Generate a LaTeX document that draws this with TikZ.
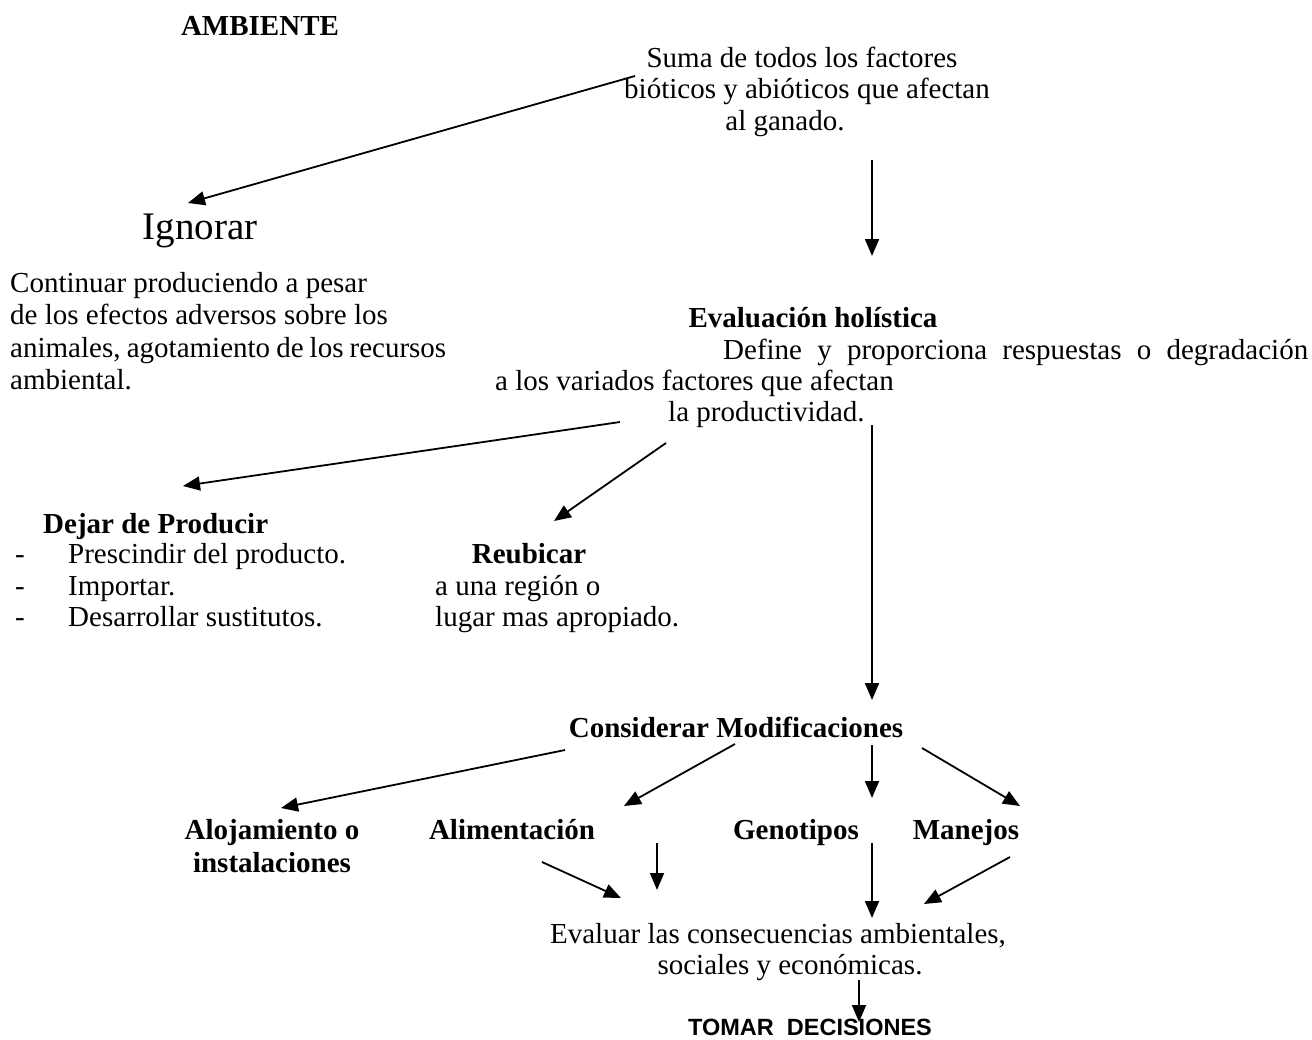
\documentclass[tikz,border=0pt]{standalone}
\usepackage{fontspec}
\setmainfont{Liberation Serif}
\newfontfamily\arialf{Liberation Sans}
\usetikzlibrary{arrows.meta}
\begin{document}
\begin{tikzpicture}[x={(1pt,0pt)},y={(0pt,-1pt)},
  txt/.style={inner sep=0pt, anchor=base, font=\fontsize{29}{33}\selectfont},
  txtl/.style={txt, anchor=base west},
  arr/.style={-{Triangle[length=17pt,width=14pt]}, line width=1.8pt}]
\useasboundingbox[fill=white] (0,0) rectangle (1312,1039);
% texts
\node[txt] (amb) at (260,35) {\textbf{AMBIENTE}};
\node[txt] (suma1) at (802,67) {Suma de todos los factores};
\node[txt] (suma2) at (807,98) {bióticos y abióticos que afectan};
\node[txt] (suma3) at (785,130) {al ganado.};
\node[txt, font=\fontsize{39}{42}\selectfont] (ign) at (200,239) {Ignorar};
\node[txtl] (c1) at (10,292) {Continuar produciendo a pesar};
\node[txtl] (c2) at (10,324) {de los efectos adversos sobre los};
\node[txtl] (c3) at (10,357) {\makebox[436pt][s]{animales, agotamiento de los recursos}};
\node[txtl] (c4) at (10,389) {ambiental.};
\node[txt] (evt) at (813,327) {\textbf{Evaluación holística}};
\node[txtl] (ev1) at (723,359) {\makebox[585pt][s]{Define y proporciona respuestas o degradación}};
\node[txtl] (ev2) at (495,390) {a los variados factores que afectan};
\node[txtl] (ev3) at (668,421) {la productividad.};
\node[txtl] (dej) at (43,533) {\textbf{Dejar de Producir}};
\node[txtl] (dd1) at (15,563) {-};
\node[txtl] (dd2) at (15,595) {-};
\node[txtl] (dd3) at (15,626) {-};
\node[txtl] (di1) at (68,563) {Prescindir del producto.};
\node[txtl] (di2) at (68,595) {Importar.};
\node[txtl] (di3) at (68,626) {Desarrollar sustitutos.};
\node[txt] (reu) at (529,563) {\textbf{Reubicar}};
\node[txtl] (r1) at (435,595) {a una región o};
\node[txtl] (r2) at (435,626) {lugar mas apropiado.};
\node[txt] (cons) at (736,737) {\textbf{Considerar Modificaciones}};
\node[txt] (aloj1) at (272,839) {\textbf{Alojamiento o}};
\node[txt] (aloj2) at (272,872) {\textbf{instalaciones}};
\node[txt] (alim) at (512,839) {\textbf{Alimentación}};
\node[txt] (gen) at (796,839) {\textbf{Genotipos}};
\node[txt] (man) at (966,839) {\textbf{Manejos}};
\node[txt] (eva1) at (778,943) {Evaluar las consecuencias ambientales,};
\node[txt] (eva2) at (790,974) {sociales y económicas.};
\node[txt, font=\arialf\bfseries\fontsize{23.5}{25}\selectfont] (tom) at (810,1035) {TOMAR\ \ DECISIONES};
% arrow end points
\coordinate (a1s) at (635,76);  \coordinate (a1e) at (188,203);
\coordinate (a2s) at (872,160); \coordinate (a2e) at (872,256);
\coordinate (a3s) at (620,422); \coordinate (a3e) at (183,486);
\coordinate (a4s) at (666,443); \coordinate (a4e) at (554,521);
\coordinate (a5s) at (872,425); \coordinate (a5e) at (872,700);
\coordinate (a6s) at (565,750); \coordinate (a6e) at (281,808);
\coordinate (a7s) at (735,744); \coordinate (a7e) at (624,806);
\coordinate (a8s) at (872,745); \coordinate (a8e) at (872,798);
\coordinate (a9s) at (922,748); \coordinate (a9e) at (1020,806);
\coordinate (b1s) at (542,862); \coordinate (b1e) at (621,898);
\coordinate (b2s) at (657,843); \coordinate (b2e) at (657,890);
\coordinate (b3s) at (872,843); \coordinate (b3e) at (872,918);
\coordinate (b4s) at (1010,857); \coordinate (b4e) at (924,904);
\coordinate (b5s) at (859,980); \coordinate (b5e) at (859,1022);
\foreach \s/\e in {a1s/a1e,a2s/a2e,a3s/a3e,a4s/a4e,a5s/a5e,a6s/a6e,a7s/a7e,a8s/a8e,a9s/a9e,b1s/b1e,b2s/b2e,b3s/b3e,b4s/b4e,b5s/b5e}
  \draw[arr] (\s) -- (\e);
\end{tikzpicture}
\end{document}
